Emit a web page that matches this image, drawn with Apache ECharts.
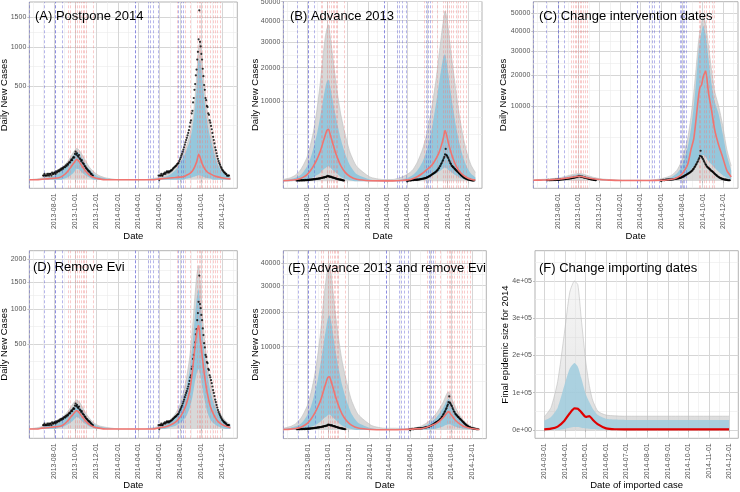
<!DOCTYPE html>
<html><head><meta charset="utf-8">
<script src="https://cdn.jsdelivr.net/npm/echarts@6.0.0/dist/echarts.min.js"></script>
<style>html,body{margin:0;padding:0;background:#fff;}#c{width:740px;height:492px;}</style>
</head><body><div id="c"></div>
<script>
// ---------------- DATA ----------------
const dateTicksAE = ['2013-08-01','2013-10-01','2013-12-01','2014-02-01','2014-04-01','2014-06-01','2014-08-01','2014-10-01','2014-12-01'];
const dateTicksF = ['2014-03-01','2014-04-01','2014-05-01','2014-06-01','2014-07-01','2014-08-01','2014-09-01','2014-10-01','2014-11-01','2014-12-01'];
const yTicksA = [500, 1000, 1500];
const yTicksB = [10000, 20000, 30000, 40000, 50000];
const yTicksC = [10000, 20000, 30000, 40000, 50000];
const yTicksD = [500, 1000, 1500, 2000];
const yTicksE = [10000, 20000, 30000, 40000];
const yTicksF = [0, 100000, 200000, 300000, 400000];

const simDates = ['2013-05-21','2013-06-12','2013-06-27','2013-07-12','2013-07-22','2013-08-01','2013-08-11','2013-08-21','2013-08-31','2013-09-10',
 '2013-09-18','2013-09-25','2013-09-30','2013-10-05','2013-10-10','2013-10-16','2013-10-23','2013-11-01','2013-11-11','2013-11-24',
 '2013-12-09','2013-12-29','2014-02-07','2014-03-19','2014-04-18','2014-05-13','2014-06-02','2014-06-17','2014-07-02','2014-07-17',
 '2014-07-29','2014-08-09','2014-08-19','2014-08-28','2014-09-05','2014-09-12','2014-09-18','2014-09-23','2014-09-28','2014-10-03',
 '2014-10-10','2014-10-18','2014-10-27','2014-11-06','2014-11-17','2014-11-29','2014-12-11','2014-12-24'];

// Panel A: Postpone 2014
const aMed = [0,0,0.02,0.05,0.1, 0.15,0.2,0.5,1.6,4.5, 9,14.5,19,24,21, 15,9,4,1.3,0.3, 0.05,0,0,0,0, 0,0.05,0.1,0.2,0.3, 0.4,0.5,1.2,2.2,4.5, 10,20,37,27,15, 7.5,3.5,2,1,0.5, 0.25,0.1,0.05];
const aBlueLo = [0,0,0,0,0, 0,0,0,0.1,0.4, 1.2,2.5,4.5,7,6.5, 4.5,2.5,1,0.3,0, 0,0,0,0,0, 0,0,0,0,0, 0,0,0.1,0.2,0.4, 0.6,0.9,1.2,1,0.7, 0.4,0.2,0.1,0,0, 0,0,0];
const aBlueHi = [0,0,0.05,0.2,0.5, 1,2,4,8,14, 22,32,40,45,42, 34,24,13,6,2, 0.5,0.1,0,0,0, 0.05,0.1,0.5,1.5,5, 13,27,50,85,150, 280,500,820,800,600, 360,190,100,45,14, 4,1,0.2];
const aGreyHi = [0,0.05,0.2,0.5,1, 2,3.5,6.5,12,20, 30,42,50,56,53, 44,32,19,9,3.5, 1,0.2,0,0,0, 0.1,0.3,1,2.5,7, 18,36,65,110,190, 360,650,1000,1100,800, 480,260,140,65,22, 7,2,0.5];

// Panel B: Advance 2013
const bMed = [0.5,1.5,4,12,30, 70,170,380,750,1400, 2300,3300,4000,4200,3400, 2500,1600,850,380,130, 35,6,0.5,0.3,0.3, 1,3,10,35,100, 200,320,520,850,1300, 2000,2900,4000,3300,2300, 1400,750,350,150,60, 20,6,2];
const bBlueLo = [0,0,0.5,1,3, 5,15,30,60,110, 200,260,320,350,300, 220,150,80,30,8, 2,0,0,0,0, 0,0,1,3,10, 20,35,60,100,150, 200,260,300,260,200, 150,90,50,20,8, 3,1,0];
const bBlueHi = [2,8,20,60,150, 350,800,1800,3500,6500, 10000,13500,15500,16000,14000, 11000,8000,5000,2800,1200, 400,80,5,0.5,0.5, 5,20,60,200,600, 1400,3000,6000,10000,15000, 20000,24000,25000,22000,18000, 12500,8000,4500,2200,900, 300,90,25];
const bGreyHi = [5,20,60,200,450, 900,2000,4000,8000,15000, 24000,32000,36000,38000,33000, 26000,19000,12000,7000,3500, 1300,350,30,5,5, 25,80,200,600,1600, 3300,6500,11000,17000,25000, 33000,40000,45000,42000,36000, 27000,19000,12000,6500,3000, 1200,400,120];

// Panel C: Change intervention dates
const cMed = [1,1.5,2,3,4, 5,8,12,17,25, 30,35,38,40,36, 30,22,15,9,5, 2.5,1.5,0.5,0.5,0.5, 0.7,1,2,5,20, 60,200,550,1800,3200, 7000,12000,15500,16500,19500, 21500,14000,9000,4500,2300, 1000,200,30];
const cBlueLo = [0.5,0.7,1,1.5,2, 2.5,4,6,9,12, 15,18,20,21,19, 16,12,8,5,2.5, 1,0.5,0.2,0.2,0.2, 0.3,0.5,1,2,6, 20,60,100,250,400, 600,900,1100,1200,1200, 1000,700,500,300,150, 60,20,5];
const cBlueHi = [2,3,4,6,8, 10,15,25,35,50, 60,70,75,75,70, 60,45,30,18,10, 5,3,1,1,1, 2,5,12,30,100, 300,900,2200,5000,10000, 18000,28000,35000,40000,43000, 38000,27000,17000,11000,8000, 4000,1200,200];
const cGreyHi = [3,4.5,6,9,12, 15,22,35,50,70, 85,95,100,100,95, 85,65,45,28,15, 8,4,1.5,1.5,1.5, 3,10,25,60,200, 600,1600,3500,7500,14000, 23000,33000,40000,45000,48000, 44000,33000,22000,14000,10000, 5500,1800,400];

// Panel D: Remove Evi
const dMed = [0,0,0.05,0.1,0.2, 0.3,0.4,0.6,1.8,5, 10,15,20,23,21, 15,9,4,1.3,0.3, 0.05,0,0,0,0, 0,0.1,0.3,1,3, 8,20,45,100,230, 450,650,740,560,380, 200,90,35,14,4.5, 1.5,0.5,0.1];
const dBlueLo = [0,0,0,0,0, 0,0.05,0.2,0.5,1.5, 3,5,7.5,10,9, 6,3.5,1.5,0.4,0.05, 0,0,0,0,0, 0,0,0,0.2,0.6, 2,5,12,30,70, 150,220,250,200,130, 60,20,6,2,0.5, 0.1,0,0];
const dBlueHi = [0,0.05,0.2,0.5,0.8, 1.2,2,4,8,14, 22,30,37,42,39, 31,21,11,5,1.5, 0.4,0.1,0,0,0, 0.05,0.3,1,3,9, 22,55,120,240,480, 850,1200,1350,1050,700, 400,220,100,45,20, 8,3,1];
const dGreyHi = [0,0.1,0.4,1,1.6, 2.5,4,7,13,22, 33,45,53,58,55, 45,31,17,8,2.5, 0.7,0.2,0,0,0, 0.1,0.6,2,5.5,15, 35,85,180,350,680, 1200,1650,1850,1450,980, 560,310,150,70,30, 12,4,1.5];

// Panel E: Advance 2013 and remove Evi
const eMed = [0.5,1.5,4,12,30, 70,170,380,750,1400, 2300,3300,4000,4100,3400, 2500,1600,850,380,130, 35,6,0.5,0.2,0.2, 0.5,1,2,2,8, 20,40,70,120,200, 300,420,490,400,300, 180,100,50,22,10, 4,1.5,0.5];
const eBlueLo = [0,0,0.5,1,3, 5,15,30,60,110, 200,260,320,350,300, 220,150,80,30,8, 2,0,0,0,0, 0,0,0,0.2,0.5, 1,2,4,10,15, 30,40,50,45,35, 20,12,6,3,1, 0.3,0,0];
const eBlueHi = [2,8,20,60,150, 350,800,1800,3600,7000, 11000,15000,18000,19000,17000, 13000,9000,5500,3000,1300, 400,80,5,0.5,0.5, 1,2,3,10,30, 70,140,250,420,650, 950,1250,1400,1200,900, 600,350,180,80,35, 12,4,1];
const eGreyHi = [5,20,60,200,450, 900,2000,4000,8000,15000, 25000,33000,38000,40000,35000, 27000,19000,12000,7000,3500, 1300,350,30,5,5, 3,5,8,20,60, 130,250,420,680,1000, 1450,1900,2100,1850,1400, 950,560,300,140,60, 22,8,3];

// Observed daily new cases (every 2 days), shared by panels A-E
const obs2013Start = '2013-06-30';
const obs2013 = [1,1,2,1,1,1,2,1,2,1,2,2,1,3,2,2,3,
 3,2,4,3,4,5,4,6,5,7,6,8,7,9,10,
 9,12,11,14,13,16,18,17,21,24,22,27,30,28,38,45,
 36,40,33,30,35,26,24,20,22,17,15,14,11,10,8,7,6,5,4,4,3,2,2,1,1];
const obs2014Start = '2014-05-30';
const obs2014 = [1,0,1,1,2,1,1,2,2,3,2,3,4,3,4,
 3,4,4,5,5,6,7,8,9,10,11,12,14,15,16,
 20,24,28,33,38,45,52,60,70,80,90,100,112,125,140,
 160,185,200,250,270,340,380,460,520,620,690,820,930,1120,1630,
 1080,1010,900,820,700,610,510,460,380,360,310,300,250,240,200,
 185,165,145,125,105,90,75,60,50,40,32,25,20,16,13,
 10,8,6,5,4,3,3,2,2,1,1,1,1];

// Intervention dates (dashed lines)
const blueDatesCommon = ['2013-05-22','2013-07-03','2013-08-04','2013-08-04','2013-08-23','2014-03-23','2014-03-23','2014-05-01','2014-05-07','2014-05-15','2014-05-28','2014-07-27','2014-08-03','2014-08-09'];
const redDatesCommon = ['2013-09-12','2013-09-17','2013-10-01','2013-10-08','2013-10-13','2013-10-18','2013-10-23','2013-10-28','2013-11-01','2013-11-21',
 '2014-07-22','2014-08-16','2014-08-30','2014-09-19','2014-09-24','2014-09-29','2014-10-05','2014-10-11','2014-10-18','2014-10-26','2014-11-03','2014-11-09','2014-11-17','2014-11-25'];
const blueDatesC = ['2013-05-22','2013-06-29','2013-08-01','2013-08-01','2013-08-21','2014-03-22','2014-03-22','2014-04-28','2014-05-05','2014-05-11','2014-05-26','2014-07-27','2014-07-31','2014-08-04','2014-08-08','2014-08-13'];
const redDatesC = ['2013-09-10','2013-09-15','2013-09-20','2013-09-25','2013-09-30','2013-10-05','2013-10-10','2013-10-15','2013-10-20','2013-10-27',
 '2014-09-20','2014-09-25','2014-10-05','2014-10-12','2014-10-20','2014-10-28','2014-11-04'];

// Panel F: Change importing dates
const fDates = ['2014-03-01','2014-03-11','2014-03-21','2014-03-31','2014-04-08','2014-04-15','2014-04-20','2014-04-25','2014-05-02','2014-05-07','2014-05-12','2014-05-20','2014-06-01','2014-06-14','2014-06-29','2014-07-29','2014-09-17','2014-12-01'];
const fMed = [1800,3500,9000,25000,45000,58000,57000,48000,35000,37500,28000,15000,4500,2000,1800,1800,1800,1800];
const fBlueLo = [0,200,800,3000,6000,8000,8000,6000,4000,3500,2500,1500,600,300,300,300,300,300];
const fBlueHi = [25000,35000,60000,120000,165000,180000,170000,140000,95000,75000,58000,40000,30000,28000,27000,27000,27000,27000];
const fGreyHi = [35000,60000,130000,260000,370000,400000,390000,300000,180000,120000,80000,50000,40000,38000,37000,37000,37000,37000];

// ---------------- CHART ----------------
const FONT = '"Liberation Sans", Arial, Helvetica, sans-serif';
const DAY = 86400000;
const ts = s => Date.parse(s + 'T00:00:00Z');
const fmtDate = v => new Date(v).toISOString().slice(0, 10);
const sq = v => Math.sqrt(Math.max(0, v));
const lin = v => v;
const fmtSqrt = v => String(Math.round(v * v));
const fmtSci = v => v.toExponential().replace(/e([+-])(\d)$/, 'e$10$2');

function minorBreaks(b, lo, hi) {
  const bd = b[1] - b[0];
  const bb = b.slice();
  if (lo < bb[0]) bb.unshift(bb[0] - bd);
  if (hi > bb[bb.length - 1]) bb.push(bb[bb.length - 1] + bd);
  const out = [];
  for (let i = 0; i < bb.length - 1; i++) { out.push(bb[i]); out.push((bb[i] + bb[i + 1]) / 2); }
  out.push(bb[bb.length - 1]);
  return out.filter(v => v >= lo && v <= hi && !b.some(m => Math.abs(m - v) < 1e-6 * Math.max(1, Math.abs(m))));
}

const xMinAE = ts('2013-05-21'), xMaxAE = ts('2015-01-13');
const fSpan = ts(dateTicksF[dateTicksF.length - 1]) - ts(dateTicksF[0]);
const xMinF = ts(dateTicksF[0]) - 0.05 * fSpan, xMaxF = ts(dateTicksF[dateTicksF.length - 1]) + 0.05 * fSpan;

const panels = [
  {title:'(A) Postpone 2014', tl:[35,10], g:{left:29.3, top:2, width:208, height:186.3}, yMin:-2.02, yMax:42.36, yTicks:yTicksA, tf:sq, fmt:fmtSqrt,
   dates:simDates, med:aMed, lo:aBlueLo, hi:aBlueHi, grey:aGreyHi, blue:blueDatesCommon, red:redDatesCommon, obs:true, yName:'Daily New Cases', yGap:19.5, xName:'Date', xGap:43},
  {title:'(B) Advance 2013', tl:[290,10], g:{left:283.3, top:1.5, width:198.7, height:186.8}, yMin:-8.72, yMax:223.9, yTicks:yTicksB, tf:sq, fmt:fmtSqrt,
   dates:simDates, med:bMed, lo:bBlueLo, hi:bBlueHi, grey:bGreyHi, blue:blueDatesCommon, red:redDatesCommon, obs:true, yName:'Daily New Cases', yGap:23, xName:'Date', xGap:43},
  {title:'(C) Change intervention dates', tl:[539,10], g:{left:533.3, top:1.7, width:204.7, height:186.6}, yMin:-9.73, yMax:239.1, yTicks:yTicksC, tf:sq, fmt:fmtSqrt,
   dates:simDates, med:cMed, lo:cBlueLo, hi:cBlueHi, grey:cGreyHi, blue:blueDatesC, red:redDatesC, obs:true, yName:'Daily New Cases', yGap:24.5, xName:'Date', xGap:43},
  {title:'(D) Remove Evi', tl:[33,261], g:{left:29.3, top:250.7, width:208, height:187.6}, yMin:-2.45, yMax:46.91, yTicks:yTicksD, tf:sq, fmt:fmtSqrt,
   dates:simDates, med:dMed, lo:dBlueLo, hi:dBlueHi, grey:dGreyHi, blue:blueDatesCommon, red:redDatesCommon, obs:true, yName:'Daily New Cases', yGap:19.5, xName:'Date', xGap:42},
  {title:'(E) Advance 2013 and remove Evi', tl:[288,262], g:{left:283.3, top:250.7, width:203, height:187.9}, yMin:-10.19, yMax:215.1, yTicks:yTicksE, tf:sq, fmt:fmtSqrt,
   dates:simDates, med:eMed, lo:eBlueLo, hi:eBlueHi, grey:eGreyHi, blue:blueDatesCommon, red:redDatesCommon, obs:true, yName:'Daily New Cases', yGap:23, xName:'Date', xGap:42},
  {title:'(F) Change importing dates', tl:[539,262], g:{left:535, top:250.7, width:203.3, height:187.6}, yMin:-22282, yMax:481342, yTicks:yTicksF, tf:lin, fmt:fmtSci,
   dates:fDates, med:fMed, lo:fBlueLo, hi:fBlueHi, grey:fGreyHi, blue:null, red:null, obs:false, yName:'Final epidemic size for 2014', yGap:25, xName:'Date of imported case', xGap:42, isF:true}
];

const grids = [], xAxes = [], yAxes = [], series = [], titles = [];
panels.forEach((p, i) => {
  grids.push(Object.assign({show:true, borderColor:'#b3b3b3', borderWidth:1, backgroundColor:'#ffffff', containLabel:false, outerBoundsMode:'none'}, p.g));
  const xMin = p.isF ? xMinF : xMinAE, xMax = p.isF ? xMaxF : xMaxAE;
  const xMaj = (p.isF ? dateTicksF : dateTicksAE).map(ts);
  const yMaj = p.yTicks.map(p.tf);
  p._xMin2 = minorBreaks(xMaj, xMin, xMax);
  p._yMin2 = minorBreaks(yMaj, p.yMin, p.yMax);
  p._xr = [xMin, xMax];
  const axLbl = {fontSize:7, color:'#555555', fontFamily:FONT};
  const nameStyle = {fontSize:9.5, color:'#000000', fontFamily:FONT};
  xAxes.push({type:'value', gridIndex:i, min:xMin, max:xMax, position:'bottom',
    axisLine:{show:false}, axisTick:{show:true, length:2, lineStyle:{color:'#b3b3b3', width:0.8}, customValues:xMaj},
    axisLabel:Object.assign({customValues:xMaj, formatter:v => fmtDate(v), rotate:90, margin:5}, axLbl),
    splitLine:{show:true, lineStyle:{color:'#d6d6d6', width:1}},
    name:p.xName, nameLocation:'middle', nameGap:p.xGap, nameMoveOverlap:false, nameTextStyle:nameStyle});
  yAxes.push({type:'value', gridIndex:i, min:p.yMin, max:p.yMax, position:'left',
    axisLine:{show:false}, axisTick:{show:true, length:2, lineStyle:{color:'#b3b3b3', width:0.8}, customValues:yMaj},
    axisLabel:Object.assign({customValues:yMaj, formatter:p.fmt, margin:3}, axLbl),
    splitLine:{show:true, lineStyle:{color:'#d6d6d6', width:1}},
    name:p.yName, nameLocation:'middle', nameRotate:90, nameGap:p.yGap, nameMoveOverlap:false, nameTextStyle:nameStyle});
  titles.push({text:p.title, left:p.tl[0], top:p.tl[1], padding:0, textStyle:{fontSize:13, fontWeight:'normal', color:'#000000', fontFamily:FONT}});

  const tf = p.tf;
  const X = p.dates.map(ts);
  const sm = 0.2;
  const greyColor = p.isF
    ? new echarts.graphic.LinearGradient(0, 0, 0, 1, [{offset:0, color:'rgba(200,200,200,0.25)'}, {offset:0.6, color:'rgba(190,190,190,0.45)'}, {offset:1, color:'rgba(180,180,180,0.7)'}])
    : '#c8c8c8';
  series.push({type:'line', xAxisIndex:i, yAxisIndex:i, data:X.map((x,k)=>[x, tf(p.grey[k])]), symbol:'none', smooth:sm,
    lineStyle:{width:0.6, color:'#bdbdbd'}, areaStyle:{color:greyColor}, silent:true, z:2});
  // blue interval band: stacked (value dimension first so stacking is applied to y)
  const st = 'band' + i;
  series.push({type:'line', xAxisIndex:i, yAxisIndex:i, stack:st, encode:{x:1, y:0}, data:X.map((x,k)=>[tf(p.lo[k]), x]), symbol:'none', smooth:sm,
    lineStyle:{width:0, opacity:0}, silent:true, z:3});
  series.push({type:'line', xAxisIndex:i, yAxisIndex:i, stack:st, encode:{x:1, y:0}, data:X.map((x,k)=>[tf(p.hi[k]) - tf(p.lo[k]), x]), symbol:'none', smooth:sm,
    lineStyle:{width:0, opacity:0}, areaStyle:{color: p.isF ? 'rgba(160,205,222,0.85)' : 'rgba(145,198,220,0.95)', opacity:1}, silent:true, z:3});
  if (p.blue) {
    const ml = [];
    p.blue.forEach(d => ml.push({xAxis:ts(d), lineStyle:{color:'#5a5ad2', opacity:0.55, width:0.8, type:[3,2]}}));
    p.red.forEach(d => ml.push({xAxis:ts(d), lineStyle:{color:'#f08080', opacity:0.5, width:0.8, type:[3,2]}}));
    series.push({type:'line', xAxisIndex:i, yAxisIndex:i, data:[], symbol:'none', silent:true, z:4,
      markLine:{silent:true, symbol:['none','none'], label:{show:false}, animation:false, emphasis:{disabled:true}, data:ml}});
  }
  if (p.obs) {
    const pts = [];
    const s13 = ts(obs2013Start), s14 = ts(obs2014Start);
    obs2013.forEach((v,k)=>pts.push([s13 + 2*k*DAY, tf(v)]));
    obs2014.forEach((v,k)=>pts.push([s14 + 2*k*DAY, tf(v)]));
    series.push({type:'scatter', xAxisIndex:i, yAxisIndex:i, data:pts, symbol:'circle', symbolSize:2.2,
      itemStyle:{color:'#000000'}, silent:true, z:5});
  }
  series.push({type:'line', xAxisIndex:i, yAxisIndex:i, data:X.map((x,k)=>[x, tf(p.med[k])]), symbol:'none', smooth:sm,
    lineStyle:{width: p.isF ? 2.2 : 1.6, color: p.isF ? '#e00000' : '#f07470'}, silent:true, z:6});
});
panels.forEach((p, i) => {
  xAxes.push({type:'value', gridIndex:i, min:p._xr[0], max:p._xr[1], position:'bottom', axisLine:{show:false},
    axisTick:{show:false, customValues:p._xMin2}, axisLabel:{show:false}, splitLine:{show:true, lineStyle:{color:'#ebebeb', width:0.6}}});
  yAxes.push({type:'value', gridIndex:i, min:p.yMin, max:p.yMax, position:'left', axisLine:{show:false},
    axisTick:{show:false, customValues:p._yMin2}, axisLabel:{show:false}, splitLine:{show:true, lineStyle:{color:'#ebebeb', width:0.6}}});
});

const chart = echarts.init(document.getElementById('c'), null, {renderer:'canvas'});
chart.setOption({animation:false, backgroundColor:'#ffffff', title:titles, grid:grids, xAxis:xAxes, yAxis:yAxes, series:series});
</script></body></html>
